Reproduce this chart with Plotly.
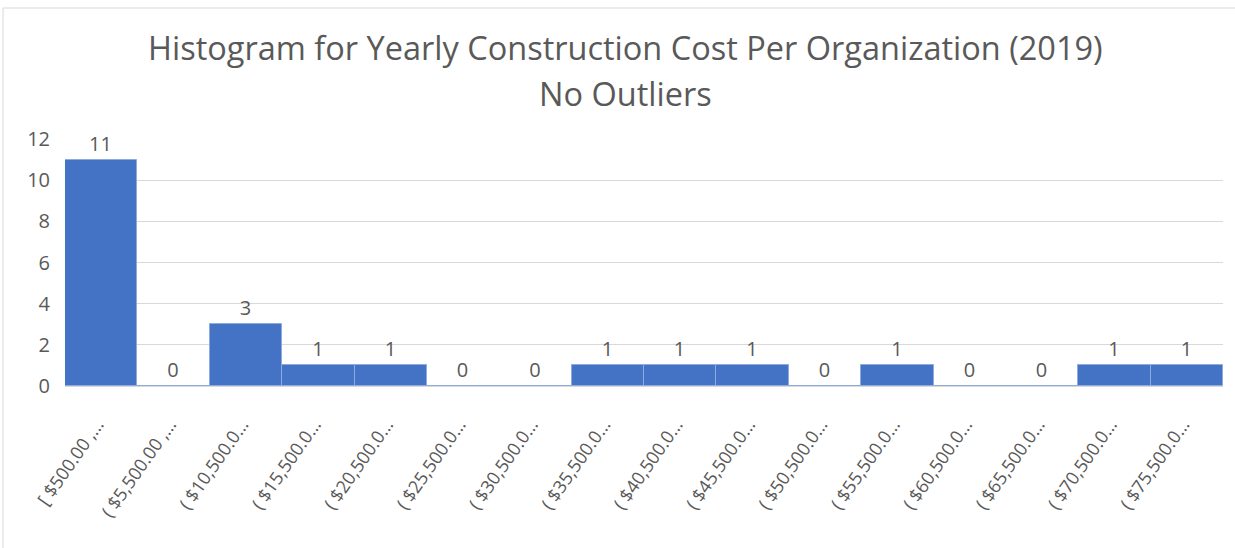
import plotly.graph_objects as go

# Bin labels as shown on the category axis (truncated bin ranges)
bins = [
    "[ $500.00 ,…", "( $5,500.00 ,…", "( $10,500.0…", "( $15,500.0…",
    "( $20,500.0…", "( $25,500.0…", "( $30,500.0…", "( $35,500.0…",
    "( $40,500.0…", "( $45,500.0…", "( $50,500.0…", "( $55,500.0…",
    "( $60,500.0…", "( $65,500.0…", "( $70,500.0…", "( $75,500.0…",
]
counts = [11, 0, 3, 1, 1, 0, 0, 1, 1, 1, 0, 1, 0, 0, 1, 1]
y_ticks = [0, 2, 4, 6, 8, 10, 12]

FONT = "Open Sans"
GRAY = "#595959"
GRID = "#D9D9D9"

fig = go.Figure(
    go.Bar(
        x=bins,
        y=counts,
        marker=dict(color="#4472C4", line=dict(color="#8FAADC", width=1)),
        text=[str(c) for c in counts],
        textposition="outside",
        textfont=dict(family=FONT, size=20, color=GRAY),
        cliponaxis=False,
        constraintext="none",
    )
)

fig.update_layout(
    width=1235,
    height=548,
    margin=dict(l=65, r=12, t=139, b=162),
    paper_bgcolor="white",
    plot_bgcolor="white",
    bargap=0,
    showlegend=False,
    xaxis=dict(
        type="category",
        tickangle=-55,
        tickfont=dict(family=FONT, size=18, color=GRAY),
        showline=True,
        linecolor=GRID,
        linewidth=1,
        ticks="",
        showgrid=False,
        ticklabelstandoff=20,
        ticklabelshift=-4,
    ),
    yaxis=dict(
        range=[0, 12],
        tickvals=y_ticks,
        tickfont=dict(family=FONT, size=20, color=GRAY),
        showgrid=True,
        gridcolor=GRID,
        gridwidth=1,
        zeroline=False,
        showline=False,
        ticks="",
        ticklabelstandoff=14,
    ),
)

# Two-line chart title
fig.add_annotation(
    text="Histogram for Yearly Construction Cost Per Organization (2019)",
    xref="paper", yref="paper", x=0.484, y=(386 - 48) / 247,
    xanchor="center", yanchor="middle", showarrow=False,
    font=dict(family=FONT, size=32.5, color=GRAY),
)
fig.add_annotation(
    text="No Outliers",
    xref="paper", yref="paper", x=0.484, y=(386 - 93) / 247,
    xanchor="center", yanchor="middle", showarrow=False,
    font=dict(family=FONT, size=32.5, color=GRAY),
)

# Chart frame
fig.add_shape(
    type="rect",
    xref="paper",
    yref="paper",
    x0=-0.0535,
    x1=1.3,
    y0=-0.9,
    y1=(386 - 8) / 247,
    line=dict(color=GRID, width=1),
    fillcolor="rgba(0,0,0,0)",
    layer="below",
)

fig.write_html("out.html")
